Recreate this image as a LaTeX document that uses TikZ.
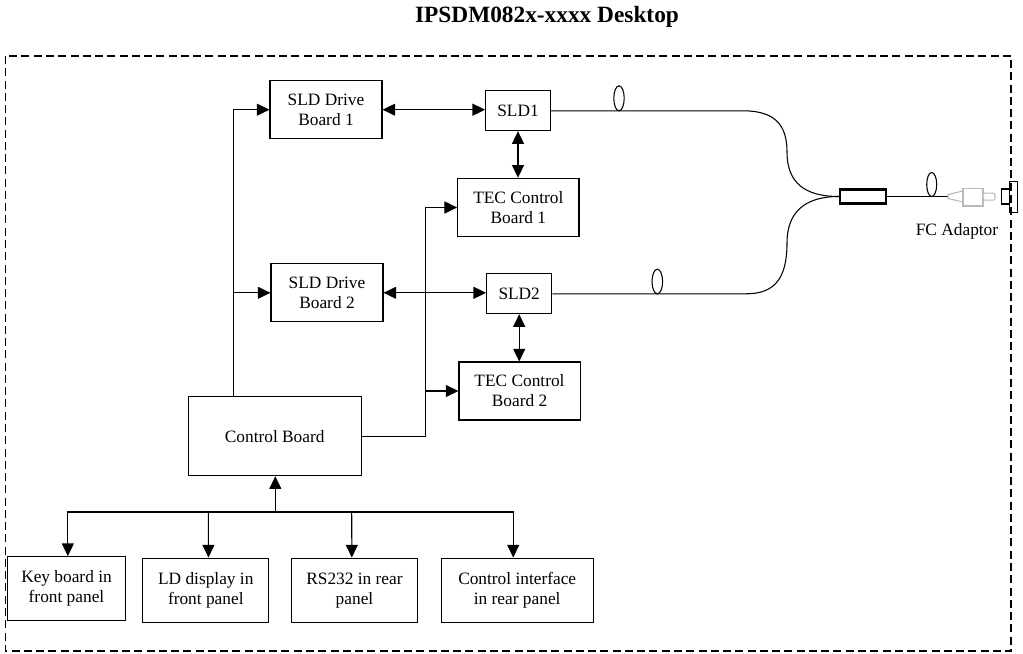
\documentclass[tikz,border=0pt]{standalone}
\usepackage{fontspec}
\setmainfont{Liberation Serif}
\usepackage{tikz}
\usetikzlibrary{arrows.meta}

\tikzset{
  board/.style={draw, line width=0.8pt, align=center, inner sep=0pt, font=\fontsize{13}{15}\selectfont},
  link/.style={line width=0.8pt, -{Triangle[length=9.5pt, width=9pt]}},
  dlink/.style={line width=0.8pt, {Triangle[length=9.5pt, width=9pt]}-{Triangle[length=9.5pt, width=9pt]}},
  fibre/.style={line width=0.8pt},
  plug/.style={draw=gray!55, line width=0.8pt, fill=white},
}

\begin{document}
\begin{tikzpicture}[x=0.75pt, y=-0.75pt]
\useasboundingbox (0,0) rectangle (1023,653);

\node[anchor=base, font=\fontsize{17.5}{20}\selectfont\bfseries] (title) at (547,22.7) {IPSDM082x-xxxx Desktop};

\draw[line width=1.4pt, dash pattern=on 6pt off 3.2pt] (5.5,56) rectangle (1011,651);

\node[board, minimum width=84pt, minimum height=43.5pt] (drive1) at (326,109.7) {SLD Drive\\Board 1};
\node[board, minimum width=48.5pt, minimum height=29.8pt] (sld1) at (518,110.8) {SLD1};
\node[board, minimum width=91pt, minimum height=43.8pt] (tec1) at (518.3,207.5) {TEC Control\\Board 1};
\node[board, minimum width=84pt, minimum height=43.3pt] (drive2) at (327,292.8) {SLD Drive\\Board 2};
\node[board, minimum width=48.8pt, minimum height=29.8pt] (sld2) at (519.2,293.8) {SLD2};
\node[board, minimum width=90.8pt, minimum height=43.5pt] (tec2) at (519.5,391) {TEC Control\\Board 2};
\node[board, minimum width=129.5pt, minimum height=59.3pt] (ctrl) at (274.7,436.2) {Control Board};

\node[board, minimum width=88.8pt, minimum height=48.2pt] (keyb) at (66.5,588.8) {Key board in\\front panel};
\node[board, minimum width=94.7pt, minimum height=48.2pt] (disp) at (205.8,590.2) {LD display in\\front panel};
\node[board, minimum width=94.2pt, minimum height=48.2pt] (rs) at (354.5,590.2) {RS232 in rear\\panel};
\node[board, minimum width=114.2pt, minimum height=48.2pt] (iface) at (517.2,590.2) {Control interface\\in rear panel};

\coordinate (lbus) at (233.3,436);
\coordinate (rbus) at (425.3,436);
\coordinate (bus) at (275.3,512);

\draw[link] (lbus |- ctrl.north) |- (drive1.west);
\draw[link] (lbus |- drive2.west) -- (drive2.west);
\draw[link] (ctrl.east) -| (rbus |- tec1.west) -- (tec1.west);
\draw[link] (rbus |- tec2.west) -- (tec2.west);

\draw[dlink] (drive1.east) -- (drive1.east -| sld1.west);
\draw[dlink] (sld1.south) -- (sld1.south |- tec1.north);
\draw[dlink] (drive2.east) -- (drive2.east -| sld2.west);
\draw[dlink] (sld2.south) -- (sld2.south |- tec2.north);

\draw[link] (bus) -- (bus |- ctrl.south);
\draw[link] (bus) -| ([xshift=1pt]keyb.north);
\draw[link] (bus) -| ([xshift=-3pt]iface.north);
\draw[link] (bus -| 208.3,0) -- ([xshift=2pt]disp.north);
\draw[link] (bus -| 351.7,0) -- ([xshift=-2pt]rs.north);

\node[draw, line width=1.6pt, minimum width=34.5pt, minimum height=10.5pt, inner sep=0pt] (coupler) at (863,196.5) {};
\coordinate (ferrule) at (948,196.5);

\draw[fibre] (sld1.east) -- (743,110.8) .. controls (775,110.8) and (787,125) .. (787,152) .. controls (787,183) and (805,196.5) .. (coupler.west);
\draw[fibre] (coupler.west) .. controls (805,196.5) and (787,212) .. (787,243) .. controls (787,278) and (775,293.8) .. (746,293.8) -- (sld2.east);
\draw[fibre] (coupler.east) -- (ferrule);

\draw[fibre] (619,98.3) ellipse (5.2 and 12.5);
\draw[fibre] (931.7,184.5) ellipse (5 and 12);
\draw[fibre] (657.3,281.5) ellipse (5.3 and 12.3);

\draw[plug] (948,194.5) -- (963,191) -- (963,202) -- (948,198.5) -- cycle;
\draw[plug] (963,188.5) rectangle (983,206);
\draw[plug, rounded corners=1.5pt] (983,193.2) rectangle (995,200.2);

\draw[line width=0.8pt] (1001.7,189) rectangle (1009.3,204);
\draw[line width=0.8pt] (1009.3,181.7) rectangle (1017.3,212.3);

\node[font=\fontsize{13}{15}\selectfont] (fclabel) at (957,231) {FC Adaptor};

\end{tikzpicture}
\end{document}
